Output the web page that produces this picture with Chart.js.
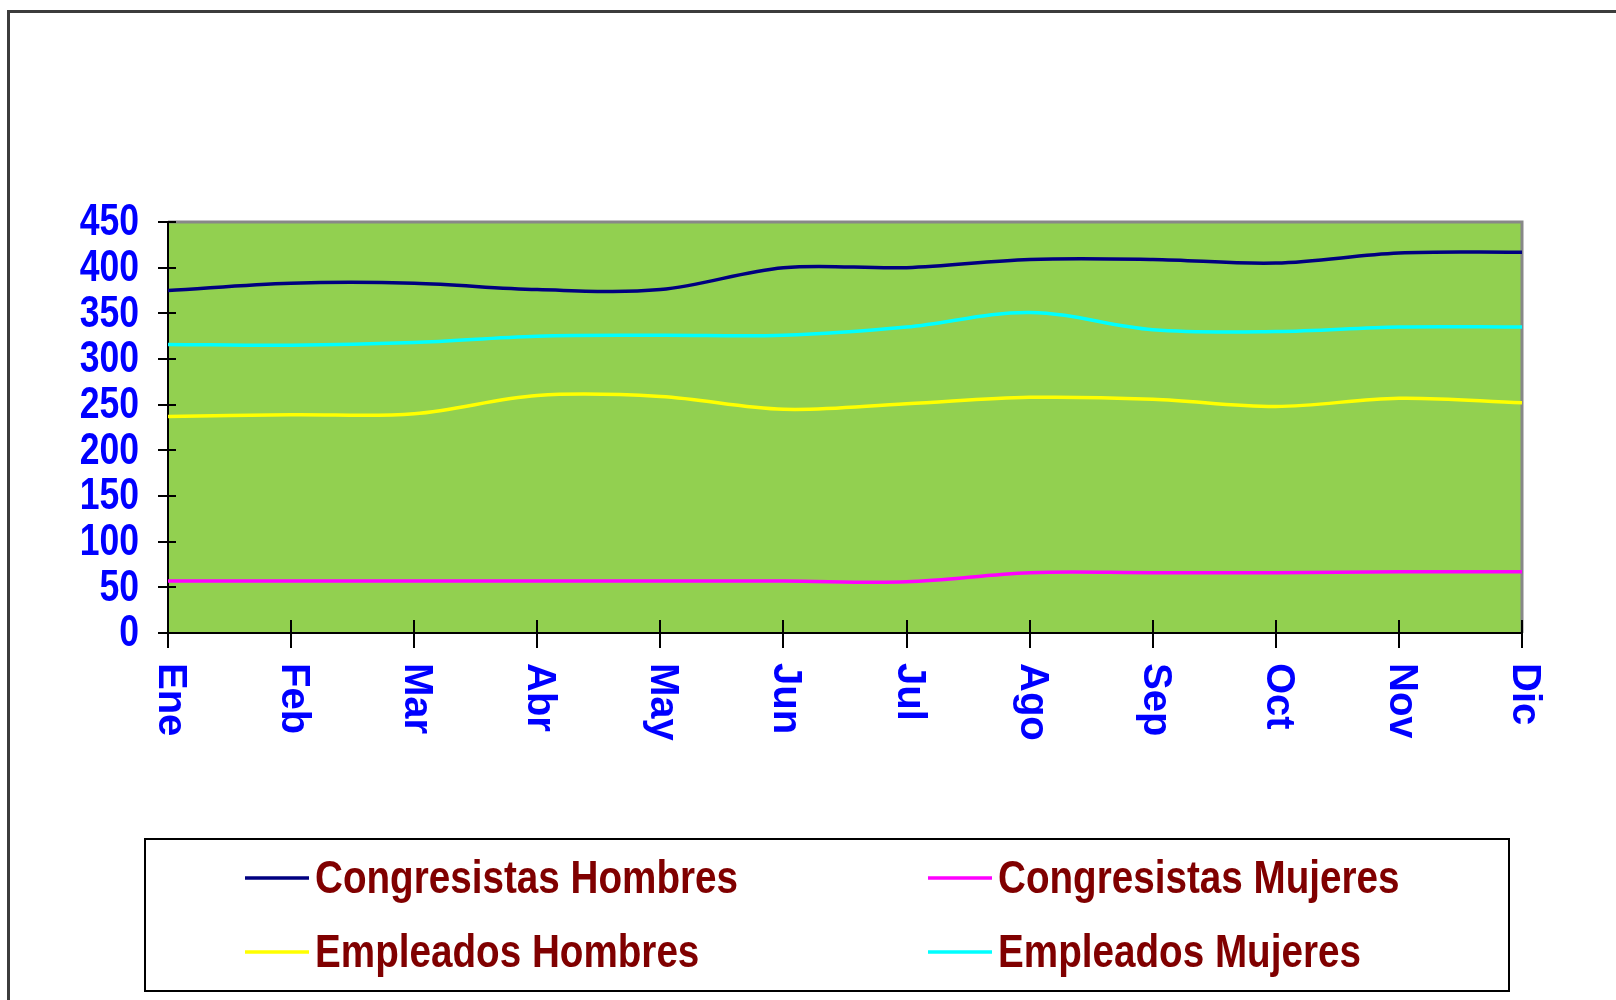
<!DOCTYPE html>
<html>
<head>
<meta charset="utf-8">
<script src="https://cdn.jsdelivr.net/npm/chart.js@4.4.0/dist/chart.umd.min.js"></script>
<style>
  html, body { margin: 0; padding: 0; background: #fff; }
  #wrap { width: 1616px; height: 1000px; overflow: hidden; }
</style>
</head>
<body>
<div id="wrap"><canvas id="chart" width="1616" height="1000"></canvas></div>
<script>
// data
const months = ['Ene', 'Feb', 'Mar', 'Abr', 'May', 'Jun', 'Jul', 'Ago', 'Sep', 'Oct', 'Nov', 'Dic'];
const congresistasHombres = [375, 383, 383, 376, 376, 400, 400, 409, 409, 405, 416, 417];
const congresistasMujeres = [57, 57, 57, 57, 57, 57, 56, 66, 66, 66, 67, 67];
const empleadosHombres = [237, 239, 240, 260, 259, 245, 251, 258, 256, 248, 257, 252];
const empleadosMujeres = [316, 315, 318, 325, 326, 326, 335, 351, 332, 330, 335, 335];
const yTicks = [0, 50, 100, 150, 200, 250, 300, 350, 400, 450];

const sans = '"Liberation Sans", Arial, sans-serif';

// text squeezed sideways, the reference uses a narrow face
function narrowText(ctx, text, x, y, squeeze, align) {
  ctx.save();
  ctx.translate(x, y);
  ctx.scale(squeeze, 1);
  ctx.textAlign = align;
  ctx.fillText(text, 0, 0);
  ctx.restore();
}

// green plot area, frame, crossing tick marks, labels and boxed legend
const decor = {
  id: 'decor',
  beforeDraw(chart) {
    const { ctx, chartArea: a } = chart;
    ctx.save();
    ctx.strokeStyle = '#3c3c3c';
    ctx.lineWidth = 3;
    ctx.beginPath();
    ctx.moveTo(8.5, 1000);
    ctx.lineTo(8.5, 11.5);
    ctx.lineTo(1616, 11.5);
    ctx.stroke();

    ctx.fillStyle = '#92d050';
    ctx.fillRect(a.left, a.top, a.right - a.left, a.bottom - a.top);
    ctx.strokeStyle = '#888888';
    ctx.lineWidth = 3;
    ctx.beginPath();
    ctx.moveTo(a.left, a.top);
    ctx.lineTo(a.right, a.top);
    ctx.lineTo(a.right, a.bottom);
    ctx.stroke();
    ctx.restore();
  },
  afterDraw(chart) {
    const { ctx, scales: { x, y } } = chart;
    ctx.save();
    ctx.strokeStyle = '#000';
    ctx.lineWidth = 2;
    ctx.beginPath();
    months.forEach((m, i) => {
      const px = Math.round(x.getPixelForTick(i));
      ctx.moveTo(px, y.bottom - 13);
      ctx.lineTo(px, y.bottom + 15);
    });
    yTicks.forEach(v => {
      const py = Math.round(y.getPixelForValue(v));
      ctx.moveTo(x.left - 10, py);
      ctx.lineTo(x.left + 8, py);
    });
    ctx.stroke();

    // y labels
    ctx.fillStyle = '#0000ff';
    ctx.font = 'bold 45px ' + sans;
    ctx.textBaseline = 'middle';
    yTicks.forEach(v => {
      narrowText(ctx, String(v), 139, y.getPixelForValue(v) + 1, 0.79, 'right');
    });

    // month labels, read top to bottom
    ctx.font = 'bold 40px ' + sans;
    ctx.textAlign = 'left';
    months.forEach((m, i) => {
      const px = x.getPixelForTick(i);
      ctx.save();
      ctx.translate(px + 2, y.bottom + 30);
      ctx.rotate(Math.PI / 2);
      ctx.fillText(m, 0, 0);
      ctx.restore();
    });

    // legend box
    ctx.strokeStyle = '#000';
    ctx.lineWidth = 2;
    ctx.strokeRect(145, 839, 1364, 152);
    const cols = [245, 928];
    const rows = [878, 952];
    ctx.font = 'bold 46px ' + sans;
    ctx.textBaseline = 'alphabetic';
    chart.data.datasets.forEach((ds, i) => {
      const lx = cols[i % 2];
      const ly = rows[Math.floor(i / 2)];
      ctx.strokeStyle = ds.borderColor;
      ctx.lineWidth = 3.5;
      ctx.beginPath();
      ctx.moveTo(lx, ly);
      ctx.lineTo(lx + 64, ly);
      ctx.stroke();
      ctx.fillStyle = '#800000';
      narrowText(ctx, ds.label, lx + 70, ly + 15, 0.84, 'left');
    });
    ctx.restore();
  }
};

const line = (label, data, color) => ({
  label,
  data,
  borderColor: color,
  borderWidth: 3.5,
  pointRadius: 0,
  tension: 0.35,
  fill: false
});

new Chart(document.getElementById('chart').getContext('2d'), {
  type: 'line',
  data: {
    labels: months,
    datasets: [
      line('Congresistas Hombres', congresistasHombres, '#000080'),
      line('Congresistas Mujeres', congresistasMujeres, '#ff00ff'),
      line('Empleados Hombres', empleadosHombres, '#ffff00'),
      line('Empleados Mujeres', empleadosMujeres, '#00ffff')
    ]
  },
  options: {
    responsive: false,
    animation: false,
    devicePixelRatio: 1,
    layout: { padding: { top: 222, right: 94, left: 0, bottom: 0 } },
    plugins: {
      legend: { display: false },
      tooltip: { enabled: false }
    },
    scales: {
      x: {
        offset: false,
        grid: { display: false, drawTicks: false },
        border: { display: true, color: '#000', width: 2 },
        ticks: { display: false },
        afterFit(s) { s.height = 367; }
      },
      y: {
        min: 0,
        max: 450,
        afterBuildTicks(s) { s.ticks = yTicks.map(v => ({ value: v })); },
        grid: { display: false, drawTicks: false },
        border: { display: true, color: '#000', width: 2 },
        ticks: { display: false },
        afterFit(s) { s.width = 168; }
      }
    }
  },
  plugins: [decor]
});
</script>
</body>
</html>
